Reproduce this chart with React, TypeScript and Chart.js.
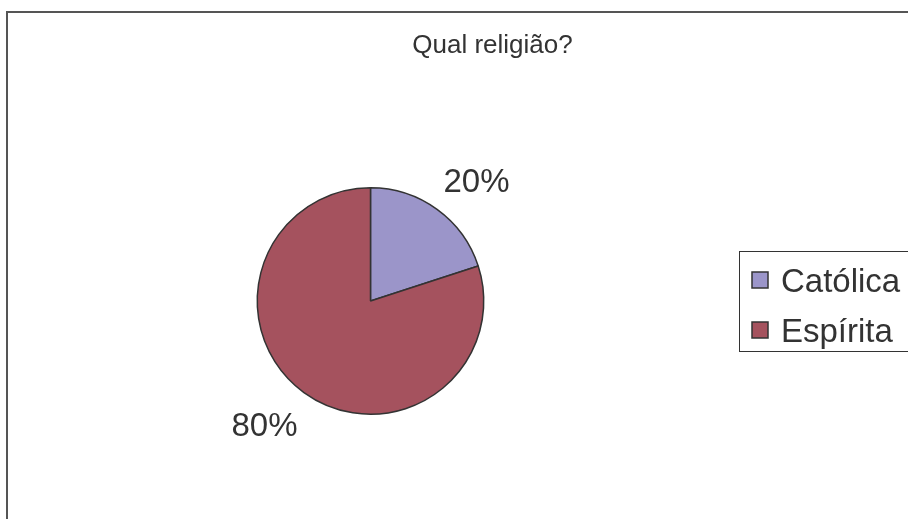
import React, { useEffect, useRef } from "react";
import { Chart, registerables } from "chart.js";

Chart.register(...registerables);

const titleText = "Qual religião?";
const categories = ["Católica", "Espírita"];
const values = [20, 80];
const colors = ["#9b95c9", "#a5525e"];

const FONT = "'Liberation Sans', Arial, Helvetica, sans-serif";

const decorPlugin = {
  id: "decor",
  beforeDraw(chart: any) {
    const ctx = chart.ctx;
    ctx.save();
    ctx.fillStyle = "#ffffff";
    ctx.fillRect(0, 0, chart.width, chart.height);
    // outer frame
    ctx.strokeStyle = "#555555";
    ctx.lineWidth = 2;
    ctx.strokeRect(7, 12, chart.width + 20, chart.height + 20);
    ctx.restore();
  },
  afterDraw(chart: any) {
    const ctx = chart.ctx;
    ctx.save();
    // title
    ctx.fillStyle = "#333333";
    ctx.font = `26px ${FONT}`;
    ctx.textAlign = "center";
    ctx.textBaseline = "alphabetic";
    ctx.fillText(titleText, 492.5, 53);

    // percentage labels
    const meta = chart.getDatasetMeta(0);
    const data = chart.data.datasets[0].data as number[];
    const total = data.reduce((a, b) => a + b, 0);
    ctx.font = `33px ${FONT}`;
    ctx.textAlign = "center";
    ctx.textBaseline = "middle";
    meta.data.forEach((arc: any, i: number) => {
      const p = arc.getProps(["x", "y", "startAngle", "endAngle", "outerRadius"], true);
      const mid = (p.startAngle + p.endAngle) / 2;
      const c = Math.cos(mid);
      const s = Math.sin(mid);
      const txt = Math.round((data[i] / total) * 100) + "%";
      const w = ctx.measureText(txt).width;
      const g = 34;
      const px = p.x + (p.outerRadius + g) * c + (c * w) / 2;
      const py = p.y + (p.outerRadius + g) * s + s * 4;
      ctx.fillText(txt, px, py + 4);
    });

    // legend
    ctx.strokeStyle = "#333333";
    ctx.lineWidth = 1;
    ctx.strokeRect(739.5, 251.5, 200, 100);
    ctx.font = `33px ${FONT}`;
    ctx.textAlign = "left";
    ctx.textBaseline = "alphabetic";
    (chart.data.labels as string[]).forEach((lab: string, i: number) => {
      const cy = 280 + i * 50;
      ctx.fillStyle = colors[i];
      ctx.fillRect(752, cy - 8, 16, 16);
      ctx.strokeStyle = "#333333";
      ctx.lineWidth = 1.5;
      ctx.strokeRect(752, cy - 8, 16, 16);
      ctx.fillStyle = "#333333";
      ctx.fillText(lab, 781, cy + 12);
    });
    ctx.restore();
  },
};

export default function App() {
  const ref = useRef<HTMLCanvasElement | null>(null);
  useEffect(() => {
    if (!ref.current) return;
    const chart = new Chart(ref.current, {
      type: "pie",
      data: {
        labels: categories,
        datasets: [
          {
            data: values,
            backgroundColor: colors,
            borderColor: "#333333",
            borderWidth: 1.5,
          },
        ],
      },
      options: {
        animation: false,
        responsive: false,
        events: [],
        layout: {
          padding: { left: 256.5, right: 423.5, top: 187, bottom: 104 },
        },
        plugins: {
          legend: { display: false },
          title: { display: false },
          tooltip: { enabled: false },
        },
      },
      plugins: [decorPlugin],
    });
    return () => chart.destroy();
  }, []);
  return (
    <div style={{ position: "absolute", left: 0, top: 0, width: 908, height: 519 }}>
      <canvas ref={ref} width={908} height={519} style={{ display: "block" }} />
    </div>
  );
}
